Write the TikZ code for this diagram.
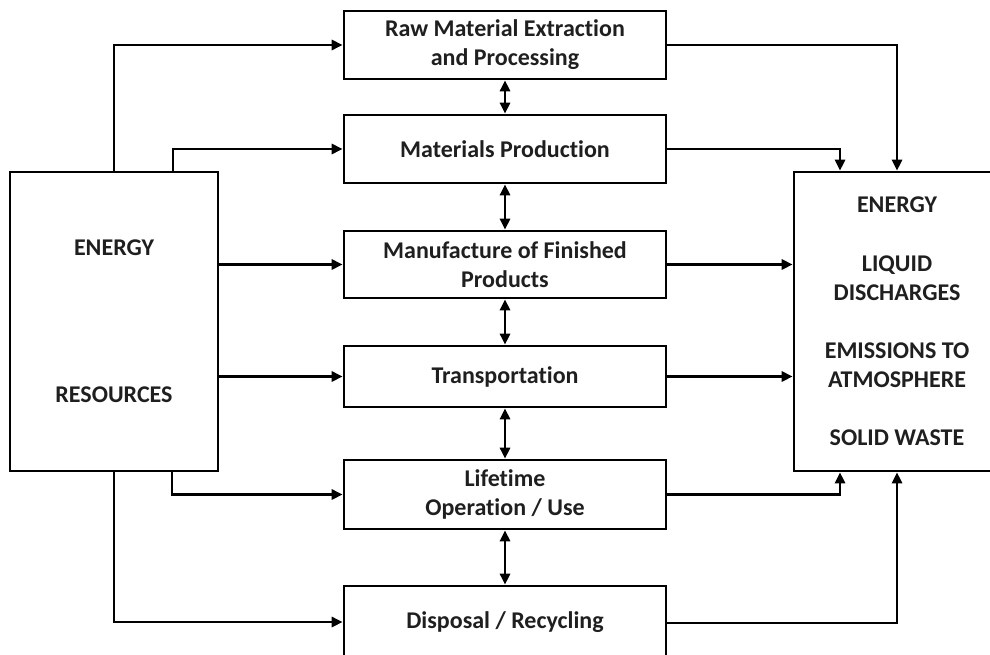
\documentclass[tikz,border=0pt]{standalone}
\usepackage{fontspec}
\setmainfont{Carlito}[Ligatures=NoCommon]
\usetikzlibrary{arrows.meta,calc}
\begin{document}
\begin{tikzpicture}[x=1pt,y=-1pt,
  every node/.style={font=\fontsize{24}{29}\selectfont\bfseries, text=black!88},
  stage/.style={draw=black, line width=2.6pt, fill=white, minimum width=322pt, align=center, inner sep=0pt},
  bigbox/.style={draw=black, line width=2.6pt, fill=white, inner sep=0pt},
  lbl/.style={align=center, inner sep=0pt},
  flow/.style={line width=2.6pt, -{Triangle[length=11pt,width=10pt]}},
  both/.style={line width=2.6pt, {Triangle[length=11pt,width=10pt]}-{Triangle[length=11pt,width=10pt]}}
]
\useasboundingbox (0,0) rectangle (990,655);
\clip (0,0) rectangle (990,655);
% side boxes
\node[bigbox, minimum width=208pt, minimum height=299pt] (L) at (114,321.5) {};
\node[bigbox, minimum width=206pt, minimum height=299pt] (R) at (897,321.5) {};
\node[lbl] (le) at (114,248) {ENERGY};
\node[lbl] (lr) at (114,395) {RESOURCES};
\node[lbl] (re) at (897,205) {ENERGY};
\node[lbl] (rl) at (897,278) {LIQUID\\DISCHARGES};
\node[lbl] (rm) at (897,365.5) {EMISSIONS TO\\ATMOSPHERE};
\node[lbl] (rs) at (897,438) {SOLID WASTE};
% stages
\node[stage, minimum height=68pt] (b1) at (505,45) {Raw Material Extraction\\and Processing};
\node[stage, minimum height=68pt] (b2) at (505,149) {Materials Production};
\node[stage, minimum height=67pt] (b3) at (505,264.5) {Manufacture of Finished\\Products};
\node[stage, minimum height=61pt] (b4) at (505,376.5) {Transportation};
\node[stage, minimum height=69pt] (b5) at (505,494.5) {Lifetime\\Operation / Use};
\node[stage, minimum height=72pt] (b6) at (505,622) {Disposal / Recycling};
% inputs
\draw[flow] (L.north) |- (b1.west);
\draw[flow] ([xshift=59pt]L.north) |- (b2.west);
\draw[flow] (L.east |- b3.west) -- (b3.west);
\draw[flow] (L.east |- b4.west) -- (b4.west);
\draw[flow] ([xshift=58pt]L.south) |- (b5.west);
\draw[flow] (L.south) |- (b6.west);
% outputs
\draw[flow] (b1.east) -| (R.north);
\draw[flow] (b2.east) -| ([xshift=-57pt]R.north);
\draw[flow] (b3.east) -- (R.west |- b3.east);
\draw[flow] (b4.east) -- (R.west |- b4.east);
\draw[flow] (b5.east) -| ([xshift=-57pt]R.south);
\draw[flow] ([yshift=-1pt]b6.west -| b6.east) -| (R.south);
% chain
\draw[both] (b1.south) -- (b2.north);
\draw[both] (b2.south) -- (b3.north);
\draw[both] (b3.south) -- (b4.north);
\draw[both] (b4.south) -- (b5.north);
\draw[both] (b5.south) -- (b6.north);
\end{tikzpicture}
\end{document}
